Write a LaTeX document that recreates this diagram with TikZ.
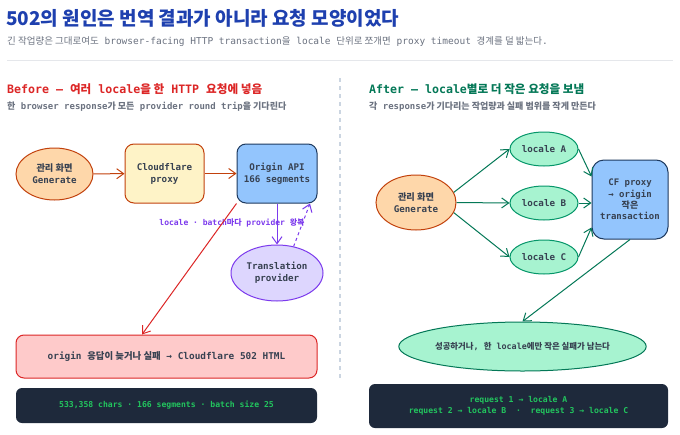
\documentclass[tikz,border=0pt]{standalone}
\usepackage{fontspec}
\setmonofont{DejaVu Sans Mono}
\newfontfamily\kr{Noto Sans CJK KR}
\usetikzlibrary{arrows.meta,shapes.geometric}
\definecolor{titleblue}{HTML}{1E40AF}
\definecolor{subgray}{HTML}{6B7280}
\definecolor{redhead}{HTML}{DC2626}
\definecolor{greenhead}{HTML}{047857}
\definecolor{orfill}{HTML}{FED7AA}
\definecolor{orline}{HTML}{C2410C}
\definecolor{yelfill}{HTML}{FEF3C7}
\definecolor{bluefill}{HTML}{93C5FD}
\definecolor{navy}{HTML}{1E3A5F}
\definecolor{vifill}{HTML}{DDD6FE}
\definecolor{viline}{HTML}{7C3AED}
\definecolor{errfill}{HTML}{FECACA}
\definecolor{darkbox}{HTML}{1E293B}
\definecolor{codegreen}{HTML}{22C55E}
\definecolor{mintfill}{HTML}{A7F3D0}
\definecolor{mintline}{HTML}{059669}
\definecolor{nodetext}{HTML}{374151}
\definecolor{divider}{HTML}{CBD5E1}
\definecolor{rule}{HTML}{E5E7EB}
\newcommand\kor[1]{{\kr #1}}
\tikzset{
  oval/.style={ellipse, draw, line width=1pt, inner sep=0pt, align=center, text=nodetext, font=\ttfamily\bfseries\fontsize{9.2}{12}\selectfont},
  boxnode/.style={rectangle, rounded corners=9pt, draw, line width=1pt, inner sep=0pt, align=center, text=nodetext, font=\ttfamily\bfseries\fontsize{9.2}{12}\selectfont},
  tip/.style={-{Straight Barb[length=7pt,width=10pt]}},
  orarrow/.style={tip, draw=orline, line width=1pt},
  viarrow/.style={tip, draw=viline, line width=1pt},
  grarrow/.style={tip, draw=greenhead, line width=1pt},
  redarrow/.style={tip, draw=redhead, line width=1pt},
  codebox/.style={rectangle, rounded corners=6pt, fill=darkbox, inner sep=0pt, align=center, text=codegreen, font=\ttfamily\bfseries\fontsize{8.1}{11}\selectfont},
}
\begin{document}
\begin{tikzpicture}[x=1pt,y=-1pt]
\useasboundingbox (0,0) rectangle (680,434);
\fill[white] (0,0) rectangle (680,434);

% header
\node[anchor=base west, inner sep=0pt, text=titleblue, font=\kr\bfseries\fontsize{19}{22}\selectfont] (title) at (6,25.5) {502의 원인은 번역 결과가 아니라 요청 모양이었다};
\node[anchor=base west, inner sep=0pt, text=subgray, font=\ttfamily\fontsize{9.5}{11}\selectfont] (subtitle) at (7,44) {\kor{긴 작업량은 그대로여도} browser-facing HTTP transaction\kor{을} locale \kor{단위로 쪼개면} proxy timeout \kor{경계를 덜 밟는다}.};
\coordinate (ruleL) at (7,60);
\coordinate (ruleR) at (673,60);
\draw[rule, line width=1pt] (ruleL) -- (ruleR);
\coordinate (divT) at (340,78);
\coordinate (divB) at (340,381);
\draw[divider, line width=1.5pt, dash pattern=on 4pt off 4pt] (divT) -- (divB);

% section headings
\node[anchor=base west, inner sep=0pt, text=redhead, font=\ttfamily\bfseries\fontsize{11.6}{14}\selectfont] (headL) at (7,93.5) {Before — \kor{여러} locale\kor{을 한} HTTP \kor{요청에 넣음}};
\node[anchor=base west, inner sep=0pt, text=subgray, font=\ttfamily\bfseries\fontsize{9}{11}\selectfont] (subL) at (7,109.5) {\kor{한} browser response\kor{가 모든} provider round trip\kor{을 기다린다}};
\node[anchor=base west, inner sep=0pt, text=greenhead, font=\ttfamily\bfseries\fontsize{11.6}{14}\selectfont] (headR) at (369,93.5) {After — locale\kor{별로 더 작은 요청을 보냄}};
\node[anchor=base west, inner sep=0pt, text=subgray, font=\ttfamily\bfseries\fontsize{9}{11}\selectfont] (subR) at (369,109.5) {\kor{각} response\kor{가 기다리는 작업량과 실패 범위를 작게 만든다}};

% left diagram
\node[oval, fill=orfill, draw=orline, minimum width=77pt, minimum height=52pt] (gen1) at (54.5,174) {\kor{관리 화면}\\Generate};
\node[boxnode, fill=yelfill, draw=orline, minimum width=79pt, minimum height=59pt] (cf1) at (164.5,173.5) {Cloudflare\\proxy};
\node[boxnode, fill=bluefill, draw=navy, minimum width=80pt, minimum height=59pt] (origin) at (277,173.5) {Origin API\\166 segments};
\node[oval, fill=vifill, draw=viline, minimum width=92pt, minimum height=56pt] (trans) at (277,273) {Translation\\provider};
\node[inner sep=1pt, text=viline, font=\ttfamily\bfseries\fontsize{8}{10}\selectfont] (vlabel) at (232,223) {locale · batch\kor{마다} provider \kor{왕복}};
\node[rectangle, rounded corners=8pt, draw=redhead, fill=errfill, line width=1pt, minimum width=301pt, minimum height=43pt, text=nodetext, font=\ttfamily\bfseries\fontsize{9.4}{12}\selectfont] (err) at (166.5,356.5) {origin \kor{응답이 늦거나 실패} → Cloudflare 502 HTML};
\node[codebox, minimum width=301pt, minimum height=35pt] (codeL) at (166.5,405.5) {533,358 chars · 166 segments · batch size 25};

\draw[orarrow] (gen1) -- (cf1);
\draw[orarrow] (cf1) -- (origin);
\draw[viarrow] (origin.south) -- (trans.north);
\draw[viarrow, dashed] (trans.58) -- ([xshift=33pt]origin.south);
\draw[redarrow] (origin.south west) -- ([xshift=-24.5pt]err.north);

% right diagram
\node[oval, fill=orfill, draw=orline, minimum width=80pt, minimum height=55pt] (gen2) at (416,202.5) {\kor{관리 화면}\\Generate};
\node[oval, fill=mintfill, draw=mintline, minimum width=68pt, minimum height=34pt] (locA) at (544,149) {locale A};
\node[oval, fill=mintfill, draw=mintline, minimum width=68pt, minimum height=34pt] (locB) at (544,203) {locale B};
\node[oval, fill=mintfill, draw=mintline, minimum width=68pt, minimum height=34pt] (locC) at (544,257) {locale C};
\node[boxnode, rounded corners=12pt, fill=bluefill, draw=navy, minimum width=76pt, minimum height=79pt, font=\ttfamily\bfseries\fontsize{9}{11.3}\selectfont] (cf2) at (630,199.5) {CF proxy\\→ origin\\\kor{작은}\\transaction};
\node[oval, fill=mintfill, draw=greenhead, minimum width=235pt, minimum height=49pt, font=\ttfamily\bfseries\fontsize{8.4}{11}\selectfont] (result) at (522.5,346.5) {\kor{성공하거나}, \kor{한} locale\kor{에만 작은 실패가 남는다}};
\node[codebox, minimum width=299pt, minimum height=44pt] (codeR) at (518.5,406) {request 1 → locale A\\request 2 → locale B \ · \ request 3 → locale C};

\draw[grarrow] (gen2.15) -- (locA.west);
\draw[grarrow] (gen2.east) -- (locB.west);
\draw[grarrow] (gen2.-15) -- (locC.west);
\draw[grarrow] (locA.east) -- ([yshift=23pt]cf2.west);
\draw[grarrow] (locB.east) -- (locB.east -| cf2.west);
\draw[grarrow] (locC.east) -- ([yshift=-28pt]cf2.west);
\draw[grarrow] (cf2.south) -- (result.north);
\end{tikzpicture}
\end{document}
